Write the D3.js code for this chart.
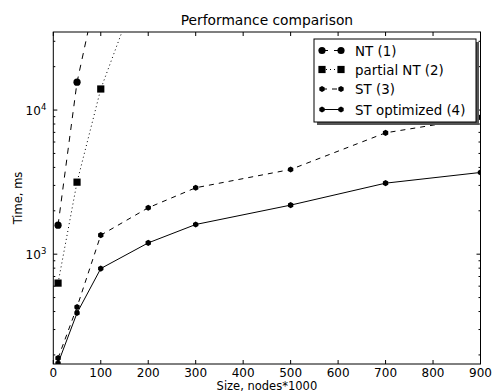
<!DOCTYPE html>
<html><head><meta charset="utf-8">
<script src="https://cdn.jsdelivr.net/npm/d3@7"></script>
<style>body{margin:0;background:#fff}svg{display:block}text{font-family:"DejaVu Sans",sans-serif;fill:#000}</style>
</head><body><svg id="c" width="495" height="392"></svg>
<script>
const sizesNT = [10, 50, 100];
const valuesNT = [1590, 15600, 90000];
const sizesPNT = [10, 50, 100, 200];
const valuesPNT = [630, 3160, 14000, 108000];
const sizesST = [10, 50, 100, 200, 300, 500, 700, 900];
const valuesST = [190, 430, 1355, 2100, 2890, 3870, 6950, 8890];
const valuesSTopt = [175, 391, 795, 1198, 1607, 2190, 3110, 3690];
const xTicks = [0, 100, 200, 300, 400, 500, 600, 700, 800, 900];
const seriesNames = ["NT (1)", "partial NT (2)", "ST (3)", "ST optimized (4)"];

const L = 53.3, R = 480.5, T = 32, B = 364;
const svg = d3.select("#c");
const x = d3.scaleLinear().domain([0, 900]).range([L, R]);
const y = d3.scaleLog().domain([173, 34800]).range([B, T]);

svg.append("defs").append("clipPath").attr("id", "clip")
  .append("rect").attr("x", L).attr("y", T).attr("width", R - L).attr("height", B - T);

function hexPath(r) {
  let p = [];
  for (let i = 0; i < 6; i++) { const a = Math.PI / 3 * i + Math.PI / 6; p.push([r * Math.cos(a), r * Math.sin(a)]); }
  return "M" + p.map(d => d.join(",")).join("L") + "Z";
}
const markers = {
  circle: g => g.append("circle").attr("r", 3.6),
  square: g => g.append("rect").attr("x", -3.6).attr("y", -3.6).attr("width", 7.2).attr("height", 7.2),
  hex: g => g.append("path").attr("d", hexPath(3.1))
};
const series = [
  { xs: sizesNT, ys: valuesNT, dash: "6,6", m: "circle" },
  { xs: sizesPNT, ys: valuesPNT, dash: "1,3", m: "square" },
  { xs: sizesST, ys: valuesST, dash: "5,5", m: "hex" },
  { xs: sizesST, ys: valuesSTopt, dash: null, m: "hex" }
];

const plot = svg.append("g").attr("clip-path", "url(#clip)");
const line = d3.line().x(d => x(d[0])).y(d => y(d[1]));
series.forEach(s => {
  const pts = s.xs.map((v, i) => [v, s.ys[i]]);
  plot.append("path").attr("d", line(pts)).attr("fill", "none").attr("stroke", "#000")
    .attr("stroke-width", 1).attr("stroke-dasharray", s.dash);
  pts.forEach(p => {
    const g = plot.append("g").attr("transform", `translate(${x(p[0])},${y(p[1])})`).attr("fill", "#000");
    markers[s.m](g);
  });
});

// axes frame
const ax = svg.append("g");
ax.append("rect").attr("x", L).attr("y", T).attr("width", R - L).attr("height", B - T)
  .attr("fill", "none").attr("stroke", "#000").attr("stroke-width", 1);

// x ticks (inward, top and bottom)
xTicks.forEach(t => {
  const px = x(t);
  ax.append("line").attr("x1", px).attr("x2", px).attr("y1", B).attr("y2", B - 4).attr("stroke", "#000");
  ax.append("line").attr("x1", px).attr("x2", px).attr("y1", T).attr("y2", T + 4).attr("stroke", "#000");
  ax.append("text").attr("x", px).attr("y", B + 13).attr("text-anchor", "middle").attr("font-size", 12).text(t);
});

// y ticks
const majors = [1000, 10000];
const minors = [];
[100, 1000, 10000].forEach(d => { for (let k = 2; k <= 9; k++) { const v = d * k; if (v >= 173 && v <= 34800) minors.push(v); } });
majors.forEach(v => {
  const py = y(v);
  ax.append("line").attr("x1", L).attr("x2", L + 4).attr("y1", py).attr("y2", py).attr("stroke", "#000");
  ax.append("line").attr("x1", R).attr("x2", R - 4).attr("y1", py).attr("y2", py).attr("stroke", "#000");
  const tx = ax.append("text").attr("x", L - 7).attr("y", py + 5).attr("text-anchor", "end").attr("font-size", 12);
  tx.append("tspan").text("10");
  tx.append("tspan").attr("dy", -5).attr("font-size", 8.5).text(Math.round(Math.log10(v)));
});
minors.forEach(v => {
  const py = y(v);
  ax.append("line").attr("x1", L).attr("x2", L + 2).attr("y1", py).attr("y2", py).attr("stroke", "#000");
  ax.append("line").attr("x1", R).attr("x2", R - 2).attr("y1", py).attr("y2", py).attr("stroke", "#000");
});

// labels
svg.append("text").attr("x", (L + R) / 2).attr("y", 25).attr("text-anchor", "middle").attr("font-size", 13.8).text("Performance comparison");
svg.append("text").attr("x", (L + R) / 2).attr("y", 390).attr("text-anchor", "middle").attr("font-size", 11.5).text("Size, nodes*1000");
svg.append("text").attr("transform", `translate(21.5,${(T + B) / 2}) rotate(-90)`).attr("text-anchor", "middle").attr("font-size", 11.5).text("Time, ms");

// legend
const lg = svg.append("g");
const lx = 314, ly = 39, lw = 162, lh = 83;
lg.append("rect").attr("x", lx + 3).attr("y", ly + 3).attr("width", lw).attr("height", lh).attr("fill", "#555");
lg.append("rect").attr("x", lx).attr("y", ly).attr("width", lw).attr("height", lh).attr("fill", "#fff").attr("stroke", "#000");
const rowsY = [50.5, 69.5, 89, 109.5];
series.forEach((s, i) => {
  const yy = rowsY[i];
  lg.append("line").attr("x1", 322).attr("x2", 341).attr("y1", yy).attr("y2", yy).attr("stroke", "#000").attr("stroke-dasharray", s.dash);
  [322, 341].forEach(mx => {
    const g = lg.append("g").attr("transform", `translate(${mx},${yy})`).attr("fill", "#000");
    markers[s.m](g);
  });
  lg.append("text").attr("x", 355).attr("y", yy + 5).attr("font-size", 13.4).text(seriesNames[i]);
});
</script></body></html>
